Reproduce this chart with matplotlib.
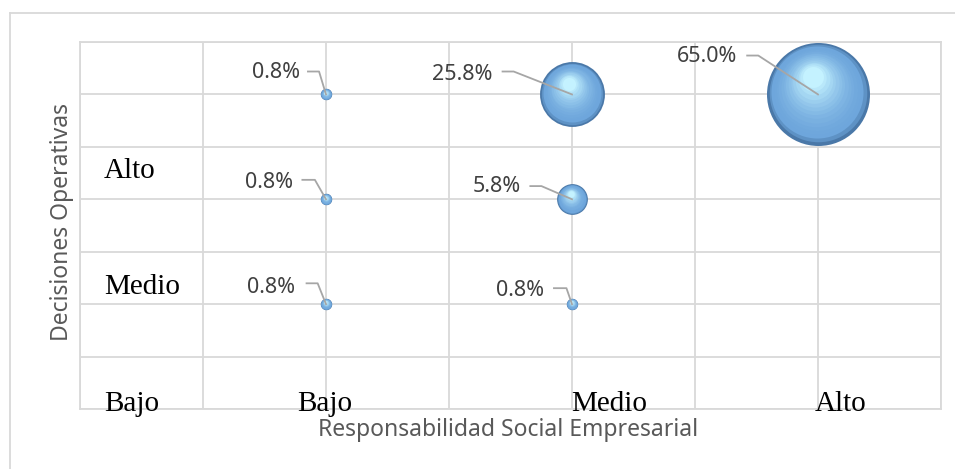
import matplotlib
matplotlib.use("Agg")
import matplotlib.pyplot as plt
import matplotlib.transforms as mtransforms
from matplotlib.lines import Line2D
import numpy as np

# data: bubble positions (1=Bajo, 2=Medio, 3=Alto) and percentages
rse = [1, 1, 1, 2, 2, 2, 3]          # Responsabilidad Social Empresarial
decisiones = [3, 2, 1, 3, 2, 1, 3]   # Decisiones Operativas
pct = [0.8, 0.8, 0.8, 25.8, 5.8, 0.8, 65.0]
labels = ["0.8%", "0.8%", "0.8%", "25.8%", "5.8%", "0.8%", "65.0%"]

# category text boxes
cat_left = ["Alto", "Medio", "Bajo"]
cat_bottom = ["Bajo", "Medio", "Alto"]

fig = plt.figure(figsize=(9.55, 4.69), dpi=100)
ax = fig.add_axes([80 / 955, 60 / 469, 861 / 955, 367 / 469])

ax.set_xlim(0, 3.5)
ax.set_ylim(0, 3.5)
ax.set_xticks(np.arange(0, 3.51, 0.5))
ax.set_yticks(np.arange(0, 3.51, 0.5))
ax.tick_params(length=0, labelbottom=False, labelleft=False)
ax.grid(True, color="#d9d9d9", linewidth=1.3)
ax.set_axisbelow(True)
for sp in ax.spines.values():
    sp.set_color("#d9d9d9")
    sp.set_linewidth(1.3)

# outer chart border (left and top edges visible)
fig.add_artist(Line2D([10 / 955, 10 / 955], [0, 1 - 13 / 469], transform=fig.transFigure,
                      color="#d9d9d9", linewidth=1.3))
fig.add_artist(Line2D([10 / 955, 1], [1 - 13 / 469, 1 - 13 / 469], transform=fig.transFigure,
                      color="#d9d9d9", linewidth=1.3))

# bubbles drawn as shaded spheres (layers of circles)
scale = 84.6
edge = np.array([0x4a, 0x78, 0xa8]) / 255
body = np.array([0x6e, 0xa6, 0xdc]) / 255
light = np.array([0xc4, 0xf2, 0xff]) / 255
n_layers = 16
for x, y, v in zip(rse, decisiones, pct):
    s = scale * v
    R = np.sqrt(s) / 2
    for k in range(n_layers):
        f = 1 - k / n_layers * 0.85
        t = k / (n_layers - 1)
        if t < 0.12:
            c = edge + (body - edge) * (t / 0.12)
        else:
            c = body + (light - body) * ((t - 0.12) / 0.88) ** 1.8
        tr = mtransforms.offset_copy(ax.transData, fig=fig,
                                     x=-0.12 * (1 - f) * R, y=0.42 * (1 - f) * R, units="points")
        ax.scatter([x], [y], s=s * f ** 2, color=c, transform=tr, linewidths=0,
                   zorder=3 + k * 0.01, clip_on=False)

# data labels with leader lines (offsets in points from the bubble centre)
text_off = [(-19, 16), (-24, 12), (-22, 12), (-57, 14), (-37, 9), (-20, 10), (-58, 27)]
line_off = [[(-13, 16.5), (-5, 16.5)], [(-17, 14), (-8, 14)], [(-14, 15), (-6, 15)],
            [(-50, 16.5), (-42, 16.5)], [(-30, 9.5), (-22, 9.5)], [(-13, 11.5), (-4, 11.5)],
            [(-51, 28), (-43, 28)]]
for x, y, lab, to, lo in zip(rse, decisiones, labels, text_off, line_off):
    ax.annotate(lab, (x, y), xytext=to, textcoords="offset points", ha="right", va="center",
                fontsize=15.5, color="#404040", family="Noto Sans", zorder=6)
    tr = (mtransforms.Affine2D().scale(1 / 72) + fig.dpi_scale_trans
          + mtransforms.ScaledTranslation(x, y, ax.transData))
    pts = np.array(lo + [(0, 0)])
    ax.add_line(Line2D(pts[:, 0], pts[:, 1], transform=tr, color="#a6a6a6",
                       linewidth=1.3, zorder=5, clip_on=False))

# category text boxes in Times-like font
for lab, yy in zip(cat_left, [2.20, 1.10, -0.02]):
    ax.text(0.098, yy, lab, fontsize=21, family="Liberation Serif", color="black",
            ha="left", va="baseline", zorder=7)
for lab, xx in zip(cat_bottom, [0.882, 1.996, 2.988]):
    ax.text(xx, -0.02, lab, fontsize=21, family="Liberation Serif", color="black",
            ha="left", va="baseline", zorder=7)

ax.set_xlabel("Responsabilidad Social Empresarial", fontsize=16.5, color="#595959",
              family="Noto Sans", va="center")
ax.xaxis.set_label_coords(0.497, -0.058)
ax.set_ylabel("Decisiones Operativas", fontsize=16.5, color="#595959",
              family="Noto Sans", va="center")
ax.yaxis.set_label_coords(-0.021, 0.51)

plt.savefig("out.png", dpi=100)
